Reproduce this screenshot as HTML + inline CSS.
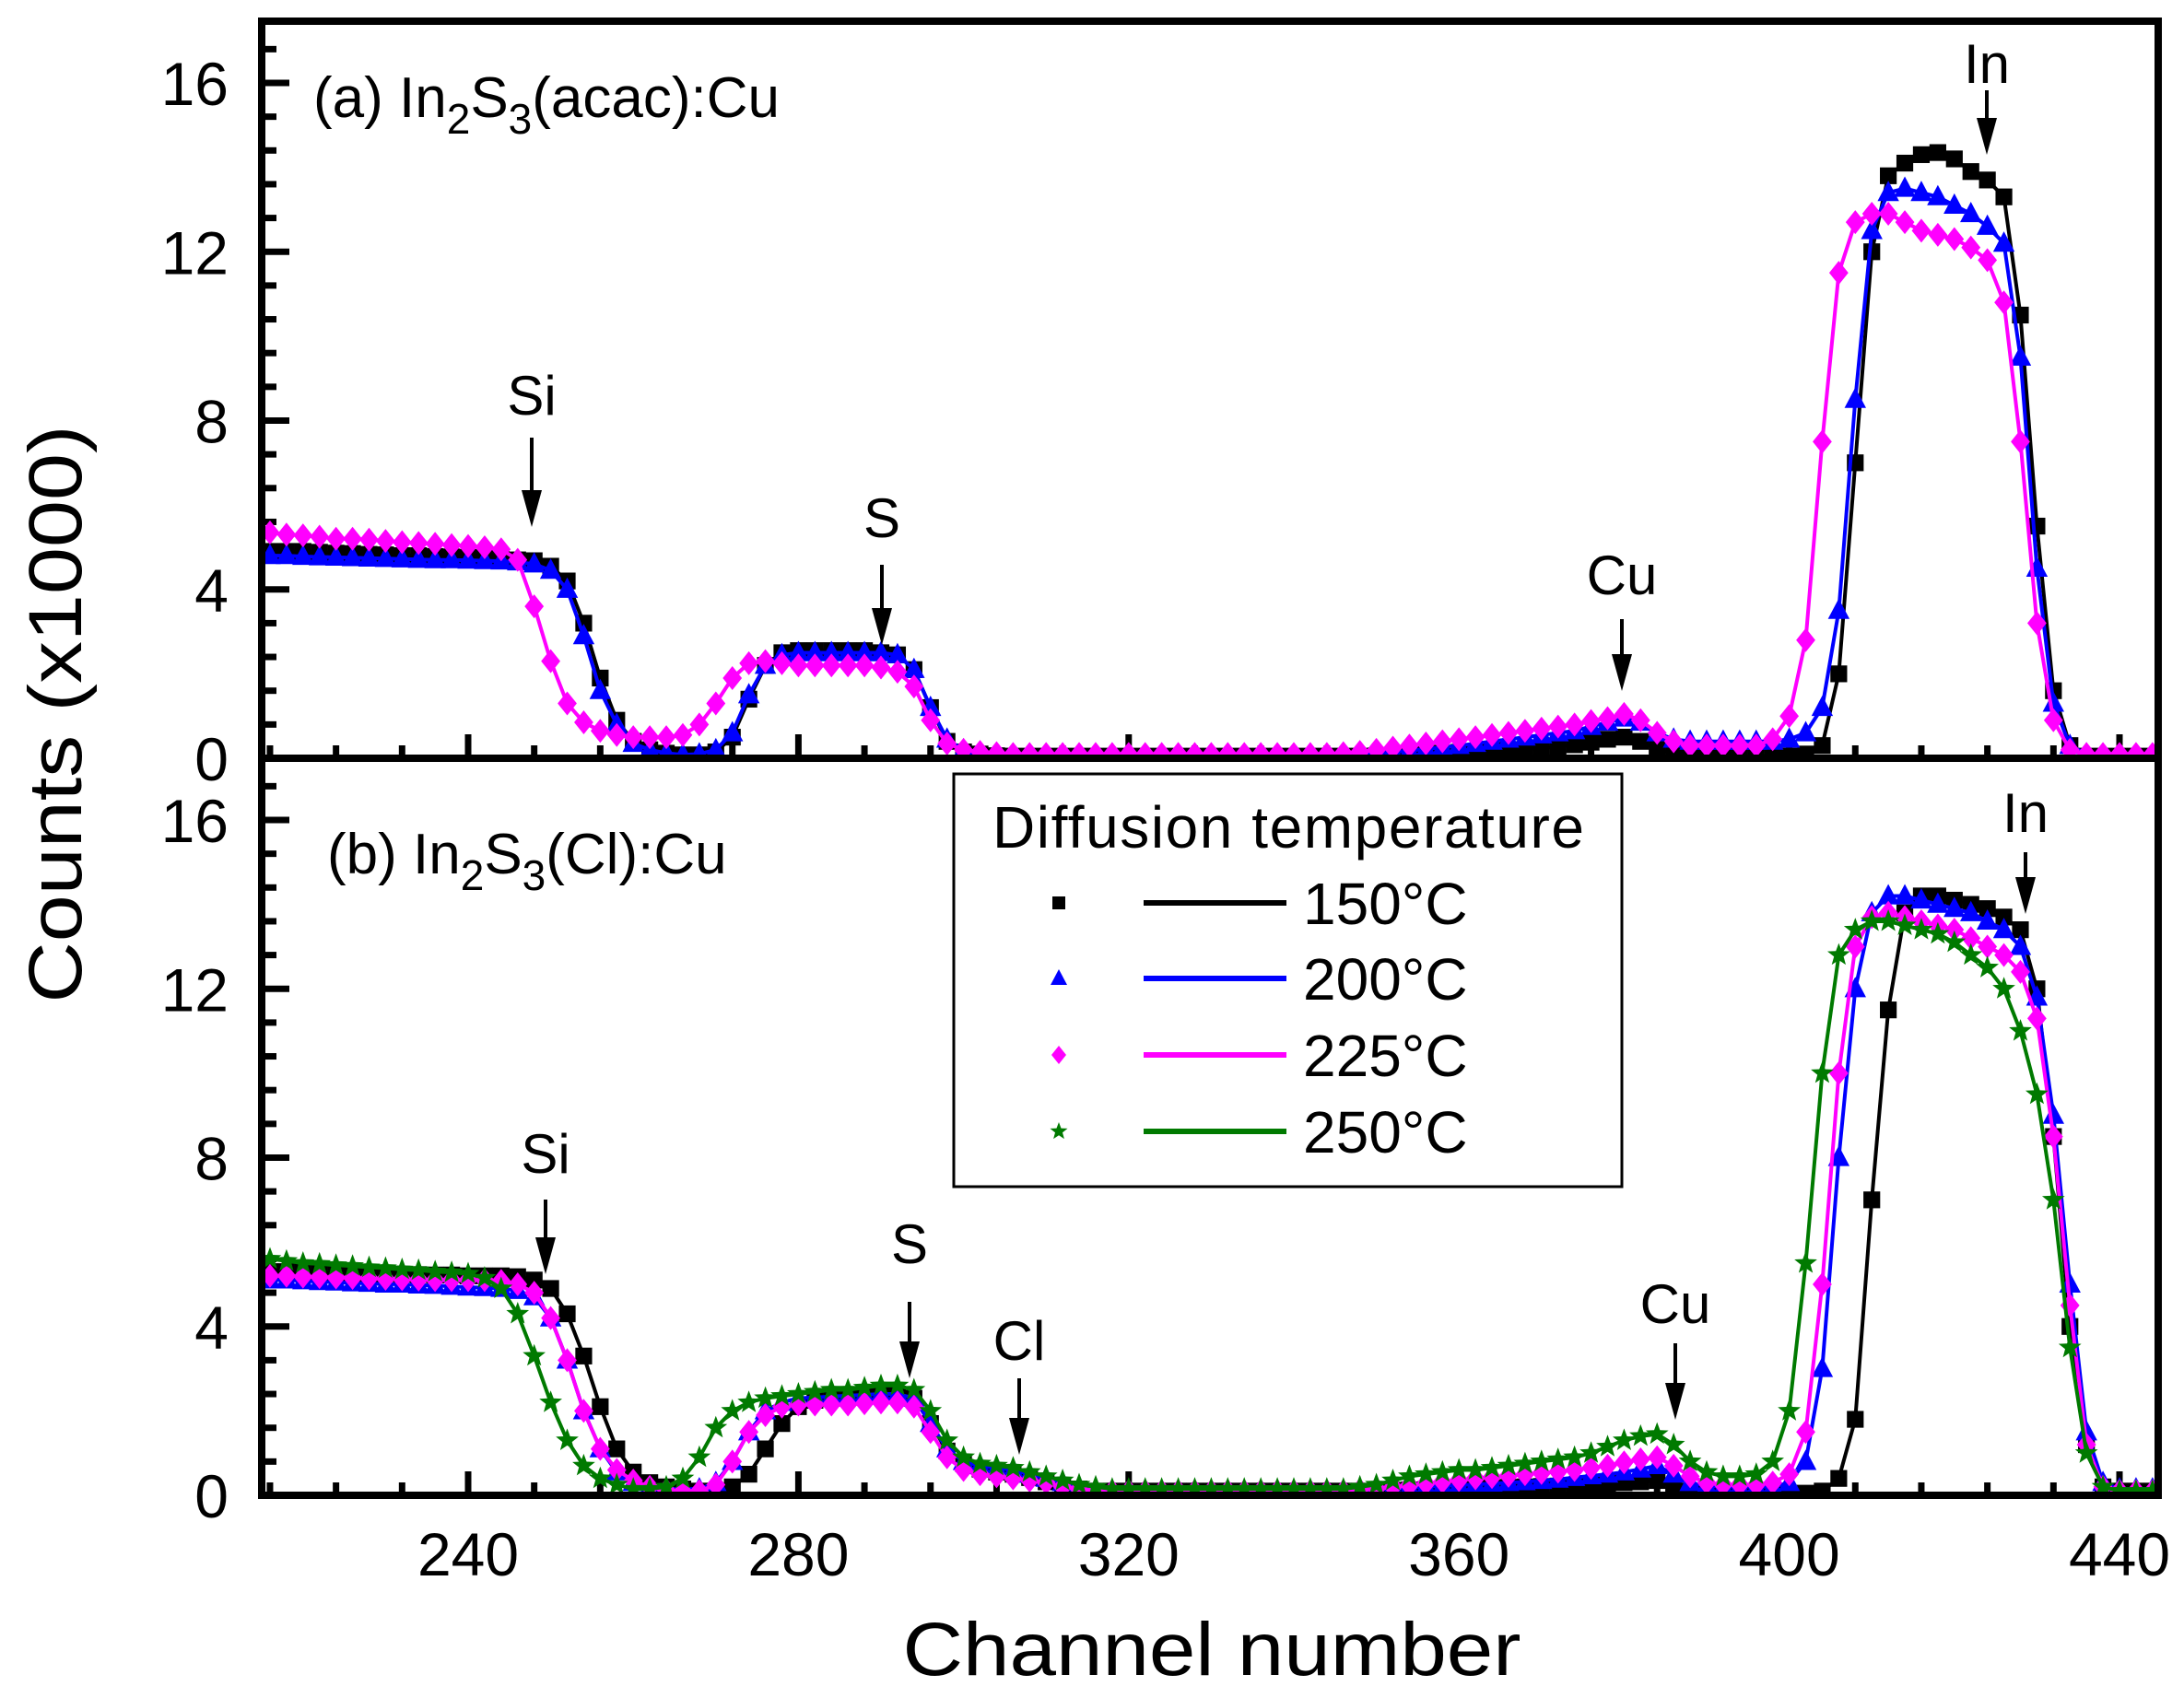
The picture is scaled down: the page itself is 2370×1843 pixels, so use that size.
<!DOCTYPE html>
<html><head><meta charset="utf-8"><style>
html,body{margin:0;padding:0;background:#fff;}
svg{display:block;font-family:"Liberation Sans",Arial,sans-serif;}
</style></head><body>
<svg id="chart" width="2370" height="1843" viewBox="0 0 2370 1843" xmlns="http://www.w3.org/2000/svg">
<defs>
<clipPath id="clipA"><rect x="288" y="27" width="2050" height="796"/></clipPath>
<clipPath id="clipB"><rect x="288" y="827" width="2050" height="796"/></clipPath>
</defs>
<g id="ticks"></g>
<g id="dataA" clip-path="url(#clipA)"></g>
<g id="dataB" clip-path="url(#clipB)"></g>
<rect x="284" y="23" width="2058" height="1600" fill="none" stroke="#000" stroke-width="8"/>
<line x1="284" y1="823" x2="2342" y2="823" stroke="#000" stroke-width="8"/>
<g id="labels" fill="#000"></g>
<text x="340" y="127" font-size="62">(a) In<tspan font-size="46" dy="18">2</tspan><tspan dy="-18">S</tspan><tspan font-size="46" dy="18">3</tspan><tspan dy="-18">(acac):Cu</tspan></text>
<text x="355" y="948" font-size="62">(b) In<tspan font-size="46" dy="18">2</tspan><tspan dy="-18">S</tspan><tspan font-size="46" dy="18">3</tspan><tspan dy="-18">(Cl):Cu</tspan></text>
<g id="annot"></g>
<g>
<rect x="1035" y="840" width="725" height="448" fill="#fff" stroke="#000" stroke-width="3"/>
<text x="1398" y="920" font-size="64" text-anchor="middle" textLength="642">Diffusion temperature</text>
<g id="legendRows"></g>
</g>
<text x="1315" y="1818" font-size="82" text-anchor="middle" textLength="671" lengthAdjust="spacingAndGlyphs">Channel number</text>
<text transform="translate(88,775) rotate(-90)" font-size="82" text-anchor="middle" textLength="627" lengthAdjust="spacingAndGlyphs">Counts (x1000)</text>
</svg>
<script>
const channels=[216,218,220,222,224,226,228,230,232,234,236,238,240,242,244,246,248,250,252,254,256,258,260,262,264,266,268,270,272,274,276,278,280,282,284,286,288,290,292,294,296,298,300,302,304,306,308,310,312,314,316,318,320,322,324,326,328,330,332,334,336,338,340,342,344,346,348,350,352,354,356,358,360,362,364,366,368,370,372,374,376,378,380,382,384,386,388,390,392,394,396,398,400,402,404,406,408,410,412,414,416,418,420,422,424,426,428,430,432,434,436,438,440,442,444];
const xTicks=[240,280,320,360,400,440];
const yTicks=[0,4,8,12,16];
const seriesNames=["150°C","200°C","225°C","250°C"];
const a150=[4.9,4.9,4.9,4.88,4.86, 4.85,4.83,4.82,4.8,4.8, 4.78,4.77,4.76,4.75,4.73, 4.7,4.68,4.55,4.2,3.2, 1.9,0.9,0.4,0.2,0.12, 0.08,0.08,0.15,0.5,1.4, 2.2,2.5,2.55,2.55,2.55, 2.55,2.55,2.5,2.45,2.1, 1.2,0.4,0.15,0.1,0.06, 0.05,0.05,0.05,0.05,0.05, 0.05,0.05,0.05,0.05,0.05, 0.05,0.05,0.05,0.05,0.05, 0.05,0.05,0.05,0.05,0.05, 0.05,0.05,0.06,0.07,0.08, 0.1,0.12,0.14,0.16,0.18, 0.2,0.22,0.25,0.28,0.32, 0.38,0.45,0.5,0.4,0.22, 0.1,0.05,0.05,0.05,0.05, 0.05,0.05,0.05,0.1,0.3, 2.0,7.0,12.0,13.8,14.1, 14.3,14.35,14.2,13.9,13.7, 13.3,10.5,5.5,1.6,0.3, 0.05,0.05,0.05,0.05,0.05];
const a200=[4.8,4.8,4.78,4.77,4.76, 4.75,4.74,4.73,4.72,4.71, 4.7,4.7,4.69,4.68,4.67, 4.65,4.6,4.45,4.0,2.9, 1.6,0.8,0.35,0.2,0.12, 0.08,0.1,0.2,0.6,1.5, 2.2,2.45,2.5,2.5,2.5, 2.5,2.5,2.5,2.45,2.1, 1.2,0.45,0.2,0.12,0.1, 0.08,0.08,0.08,0.08,0.08, 0.08,0.08,0.08,0.08,0.08, 0.08,0.08,0.08,0.08,0.08, 0.08,0.08,0.08,0.08,0.08, 0.08,0.1,0.12,0.15,0.18, 0.22,0.26,0.3,0.35,0.4, 0.45,0.5,0.55,0.6,0.65, 0.75,0.85,0.95,0.85,0.6, 0.45,0.4,0.4,0.4,0.4, 0.4,0.4,0.45,0.6,1.2, 3.5,8.5,12.5,13.4,13.5, 13.4,13.3,13.1,12.9,12.6, 12.2,9.5,4.5,1.3,0.3, 0.1,0.08,0.08,0.08,0.08];
const a225=[5.35,5.3,5.28,5.25,5.2, 5.2,5.18,5.15,5.12,5.1, 5.08,5.05,5.03,5.0,4.95, 4.7,3.6,2.3,1.3,0.85, 0.65,0.55,0.5,0.5,0.5, 0.55,0.8,1.3,1.9,2.25, 2.3,2.25,2.2,2.2,2.2, 2.2,2.2,2.15,2.05,1.7, 0.9,0.35,0.2,0.15,0.12, 0.1,0.1,0.1,0.1,0.1, 0.1,0.1,0.1,0.1,0.1, 0.1,0.1,0.1,0.1,0.1, 0.1,0.1,0.1,0.1,0.1, 0.12,0.15,0.2,0.25,0.3, 0.35,0.4,0.45,0.5,0.55, 0.6,0.65,0.7,0.75,0.8, 0.88,0.95,1.05,0.9,0.6, 0.4,0.3,0.3,0.3,0.3, 0.3,0.45,1.0,2.8,7.5, 11.5,12.7,12.9,12.9,12.7, 12.5,12.4,12.3,12.1,11.8, 10.8,7.5,3.2,0.9,0.2, 0.1,0.1,0.1,0.1,0.1];
const b150=[5.3,5.3,5.3,5.28,5.27, 5.26,5.25,5.25,5.24,5.23, 5.22,5.22,5.2,5.2,5.2, 5.18,5.1,4.9,4.3,3.3, 2.1,1.1,0.55,0.3,0.2, 0.15,0.1,0.1,0.2,0.5, 1.1,1.7,2.1,2.25,2.3, 2.32,2.35,2.38,2.4,2.3, 1.7,1.05,0.75,0.62,0.55, 0.5,0.42,0.32,0.22,0.15, 0.1,0.1,0.1,0.1,0.1, 0.1,0.1,0.1,0.1,0.1, 0.1,0.1,0.1,0.1,0.1, 0.1,0.1,0.1,0.12,0.13, 0.14,0.15,0.16,0.17,0.18, 0.19,0.2,0.21,0.22,0.24, 0.26,0.28,0.3,0.32,0.35, 0.2,0.1,0.06,0.05,0.05, 0.05,0.05,0.05,0.05,0.1, 0.4,1.8,7.0,11.5,13.8, 14.2,14.2,14.1,14.0,13.9, 13.7,13.4,12.0,8.5,4.0, 1.2,0.2,0.1,0.1,0.1];
const b200=[5.1,5.1,5.08,5.06,5.05, 5.03,5.02,5.0,5.0,4.98, 4.97,4.95,4.93,4.92,4.9, 4.85,4.7,4.2,3.2,2.0, 1.1,0.55,0.3,0.2,0.15, 0.15,0.15,0.3,0.8,1.5, 2.0,2.2,2.3,2.32,2.34, 2.36,2.38,2.4,2.4,2.3, 1.7,1.1,0.8,0.7,0.65, 0.6,0.5,0.4,0.3,0.2, 0.12,0.12,0.12,0.12,0.12, 0.1,0.1,0.1,0.1,0.1, 0.1,0.1,0.1,0.1,0.1, 0.1,0.12,0.14,0.16,0.18, 0.2,0.22,0.24,0.26,0.28, 0.3,0.32,0.35,0.38,0.42, 0.46,0.5,0.55,0.62,0.7, 0.5,0.3,0.22,0.2,0.2, 0.2,0.2,0.3,0.8,3.0, 8.0,12.0,13.8,14.2,14.2, 14.1,14.0,13.9,13.8,13.6, 13.4,13.0,11.8,9.0,5.0, 1.5,0.3,0.15,0.15,0.15];
const b225=[5.2,5.2,5.18,5.17,5.16, 5.15,5.14,5.13,5.12,5.11, 5.1,5.1,5.1,5.1,5.08, 5.0,4.8,4.2,3.2,2.0, 1.1,0.6,0.35,0.2,0.12, 0.1,0.1,0.25,0.8,1.5, 1.9,2.1,2.15,2.15,2.15, 2.15,2.18,2.2,2.2,2.1, 1.5,0.9,0.6,0.5,0.45, 0.4,0.35,0.3,0.2,0.15, 0.1,0.1,0.1,0.1,0.1, 0.1,0.1,0.1,0.1,0.1, 0.1,0.1,0.1,0.1,0.1, 0.1,0.13,0.16,0.2,0.24, 0.28,0.32,0.36,0.4,0.43, 0.46,0.5,0.53,0.56,0.6, 0.65,0.7,0.78,0.85,0.9, 0.7,0.45,0.3,0.25,0.25, 0.25,0.3,0.5,1.5,5.0, 10.0,13.0,13.7,13.8,13.7, 13.6,13.5,13.4,13.2,13.0, 12.8,12.4,11.3,8.5,4.5, 1.2,0.2,0.1,0.1,0.1];
const b250=[5.6,5.55,5.5,5.48,5.45, 5.43,5.4,5.38,5.35,5.33, 5.3,5.28,5.25,5.15,4.9, 4.3,3.3,2.2,1.3,0.7, 0.4,0.25,0.15,0.15,0.2, 0.4,0.9,1.6,2.0,2.2, 2.3,2.35,2.4,2.45,2.5, 2.5,2.55,2.6,2.6,2.5, 2.0,1.3,0.9,0.75,0.7, 0.65,0.55,0.45,0.35,0.25, 0.2,0.15,0.15,0.15,0.15, 0.15,0.15,0.15,0.15,0.15, 0.15,0.15,0.15,0.15,0.15, 0.15,0.2,0.25,0.35,0.45, 0.5,0.55,0.6,0.6,0.65, 0.7,0.75,0.8,0.85,0.9, 1.0,1.15,1.3,1.4,1.45, 1.2,0.8,0.55,0.45,0.45, 0.5,0.8,2.0,5.5,10.0, 12.8,13.4,13.6,13.6,13.5, 13.4,13.3,13.1,12.8,12.5, 12.0,11.0,9.5,7.0,3.5, 1.0,0.2,0.1,0.1,0.1];

const NS="http://www.w3.org/2000/svg";
const X0=284, X1=2342, C0=215, PXC=8.96;
const PXK=733/16;
function xs(c){return X0+(c-C0)*PXC;}
function ya(v){return 823-v*PXK;}
function yb(v){return 1623-v*PXK;}
function mk(tag,attrs,parent){const e=document.createElementNS(NS,tag);for(const k in attrs)e.setAttribute(k,attrs[k]);parent.appendChild(e);return e;}
const colors=["#000000","#0000ff","#ff00ff","#007a00"];
const shapes=["square","triangle","diamond","star"];
function marker(shape,x,y,col,parent,s){
  s=s||1;let e;
  if(shape==="square"){e=mk("rect",{x:x-7*s,y:y-7*s,width:14*s,height:14*s,fill:col},parent);}
  else if(shape==="triangle"){e=mk("polygon",{points:`${x},${y-10*s} ${x+9*s},${y+7*s} ${x-9*s},${y+7*s}`,fill:col},parent);}
  else if(shape==="diamond"){e=mk("polygon",{points:`${x},${y-10*s} ${x+8*s},${y} ${x},${y+10*s} ${x-8*s},${y}`,fill:col},parent);}
  else {let p=[];for(let i=0;i<10;i++){const r=i%2?4.2*s:10*s;const a=-Math.PI/2+i*Math.PI/5;p.push((x+r*Math.cos(a)).toFixed(1)+","+(y+r*Math.sin(a)).toFixed(1));}
    e=mk("polygon",{points:p.join(" "),fill:col},parent);}
  return e;
}
function drawSeries(vals,yf,idx,parent,panel){
  const g=mk("g",{},parent);
  
  
  for(let i=0;i<vals.length;i++){
    const m=marker(shapes[idx],xs(channels[i]),yf(vals[i]),colors[idx],g,1.3);
    
    
  }
  let d="";
  for(let i=0;i<vals.length;i++){d+=(i?"L":"M")+xs(channels[i]).toFixed(1)+","+yf(vals[i]).toFixed(1);}
  const l=mk("path",{d:d,fill:"none",stroke:colors[idx],"stroke-width":4,"stroke-linejoin":"round"},g);
  
  
}
const dA=document.getElementById("dataA"), dB=document.getElementById("dataB");
[a150,a200,a225].forEach((v,i)=>drawSeries(v,ya,i,dA,"a"));
[b150,b200,b225,b250].forEach((v,i)=>drawSeries(v,yb,i,dB,"b"));

const tg=document.getElementById("ticks");
const lg=document.getElementById("labels");
[823,1623].forEach(base=>{
  for(let c=216;c<=444;c+=8){
    const major=xTicks.indexOf(c)>=0;
    const t=mk("line",{x1:xs(c),x2:xs(c),y1:base,y2:base-(major?26:14),stroke:"#000","stroke-width":7},tg);
    
    
  }
});
[ya,yb].forEach((yf,pi)=>{
  for(let k=0;k<=21;k++){
    const v=k*0.8; if(v>17.3)break;
    const major=Math.abs(v/4-Math.round(v/4))<1e-6;
    const t=mk("line",{x1:X0,x2:X0+(major?30:16),y1:yf(v),y2:yf(v),stroke:"#000","stroke-width":7},tg);
    
    
  }
  yTicks.forEach(v=>{
    const t=mk("text",{x:248,y:yf(v)+24,"text-anchor":"end","font-size":66},lg);
    t.textContent=v;
    
    
  });
});
xTicks.forEach(c=>{
  const t=mk("text",{x:xs(c),y:1710,"text-anchor":"middle","font-size":66},lg);
  t.textContent=c;
  
  
});

const annLabels=["Si","S","Cu","In","Si","S","Cl","Cu","In"];
const annX=[577,957,1760,2156,592,987,1106,1818,2198];
const annTextY=[450,583,645,90,1273,1371,1476,1436,903];
const annTop=[475,613,672,98,1302,1413,1496,1458,925];
const annTip=[572,700,750,168,1383,1496,1579,1541,992];
const ag=document.getElementById("annot");
annLabels.forEach((s,i)=>{
  const g=mk("g",{},ag);
  
  
  const t=mk("text",{x:annX[i],y:annTextY[i],"text-anchor":"middle","font-size":60},g);
  t.textContent=s;
  mk("line",{x1:annX[i],x2:annX[i],y1:annTop[i],y2:annTip[i]-30,stroke:"#000","stroke-width":4},g);
  mk("polygon",{points:`${annX[i]-11},${annTip[i]-40} ${annX[i]+11},${annTip[i]-40} ${annX[i]},${annTip[i]}`,fill:"#000"},g);
});

const lr=document.getElementById("legendRows");
const rowY=[980,1062,1145,1228];
seriesNames.forEach((n,i)=>{
  const g=mk("g",{},lr);
  
  
  marker(shapes[i],1149,rowY[i],colors[i],g,1);
  mk("line",{x1:1241,x2:1396,y1:rowY[i],y2:rowY[i],stroke:colors[i],"stroke-width":6},g);
  const t=mk("text",{x:1414,y:rowY[i]+23,"font-size":64},g);
  t.textContent=n;
});
</script>
</body></html>
